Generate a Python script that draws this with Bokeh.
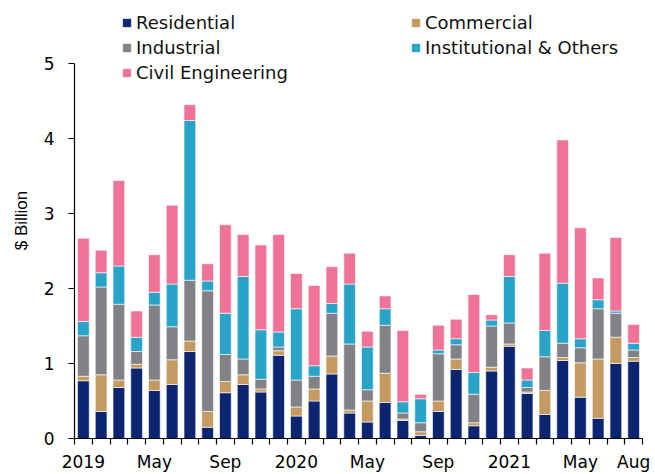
from bokeh.plotting import figure
from bokeh.models import ColumnDataSource, FixedTicker, Legend, LegendItem, Range1d
from bokeh.embed import file_html
from bokeh.resources import INLINE

months = ["Jan 2019", "Feb 2019", "Mar 2019", "Apr 2019", "May 2019", "Jun 2019", "Jul 2019", "Aug 2019",
          "Sep 2019", "Oct 2019", "Nov 2019", "Dec 2019", "Jan 2020", "Feb 2020", "Mar 2020", "Apr 2020",
          "May 2020", "Jun 2020", "Jul 2020", "Aug 2020", "Sep 2020", "Oct 2020", "Nov 2020", "Dec 2020",
          "Jan 2021", "Feb 2021", "Mar 2021", "Apr 2021", "May 2021", "Jun 2021", "Jul 2021", "Aug 2021"]

residential = [0.77, 0.36, 0.68, 0.94, 0.64, 0.72, 1.16, 0.15, 0.61, 0.72, 0.62, 1.11, 0.30, 0.50, 0.86, 0.34,
               0.22, 0.48, 0.24, 0.04, 0.36, 0.92, 0.17, 0.90, 1.23, 0.60, 0.32, 1.04, 0.55, 0.27, 1.00, 1.03]
commercial = [0.06, 0.49, 0.10, 0.05, 0.14, 0.33, 0.14, 0.21, 0.15, 0.13, 0.04, 0.06, 0.12, 0.16, 0.24, 0.04,
              0.28, 0.39, 0.02, 0.05, 0.14, 0.14, 0.04, 0.05, 0.03, 0.02, 0.32, 0.04, 0.46, 0.79, 0.35, 0.05]
industrial = [0.54, 1.17, 1.01, 0.17, 1.00, 0.44, 0.81, 1.61, 0.36, 0.21, 0.13, 0.05, 0.36, 0.17, 0.57, 0.88,
              0.15, 0.64, 0.08, 0.12, 0.63, 0.19, 0.38, 0.55, 0.28, 0.06, 0.45, 0.19, 0.20, 0.67, 0.32, 0.10]
institutional = [0.19, 0.19, 0.51, 0.19, 0.17, 0.57, 2.13, 0.13, 0.55, 1.10, 0.66, 0.20, 0.95, 0.14, 0.13, 0.80,
                 0.57, 0.22, 0.15, 0.32, 0.05, 0.08, 0.29, 0.08, 0.62, 0.10, 0.35, 0.80, 0.12, 0.12, 0.03, 0.09]
civil = [1.11, 0.30, 1.14, 0.35, 0.50, 1.05, 0.21, 0.23, 1.18, 0.56, 1.13, 1.30, 0.47, 1.07, 0.49, 0.41,
         0.21, 0.17, 0.95, 0.06, 0.33, 0.26, 1.04, 0.07, 0.29, 0.16, 1.03, 1.91, 1.48, 0.29, 0.98, 0.25]

series_names = ["Residential", "Commercial", "Industrial", "Institutional & Others", "Civil Engineering"]
series_keys = ["residential", "commercial", "industrial", "institutional", "civil"]
colors = ["#0c2570", "#c49a62", "#808285", "#29a3c8", "#ee7396"]

tick_index = [0, 4, 8, 12, 16, 20, 24, 28, 31]
tick_labels = ["2019", "May", "Sep", "2020", "May", "Sep", "2021", "May", "Aug"]
y_ticks = [0, 1, 2, 3, 4, 5]

x = list(range(len(months)))
src = ColumnDataSource(dict(x=x, month=months, residential=residential, commercial=commercial,
                            industrial=industrial, institutional=institutional, civil=civil))

p = figure(width=655, height=474, output_backend="svg", toolbar_location=None,
           x_range=Range1d(-0.5, len(months) - 0.5), y_range=Range1d(0, 5.813),
           min_border_left=74, min_border_right=13, min_border_top=2, min_border_bottom=36)
p.outline_line_color = None
p.xgrid.visible = False
p.ygrid.visible = False

renderers = p.vbar_stack(series_keys, x="x", width=0.66, source=src, color=colors,
                         line_color="white", line_width=0.6)

FONT = "DejaVu Sans"

# y axis
ya = p.yaxis[0]
ya.ticker = FixedTicker(ticks=y_ticks)
ya.bounds = (0, 5)
ya.axis_line_color = "black"
ya.axis_line_width = 1.2
ya.major_tick_out = 6
ya.major_tick_in = 0
ya.minor_tick_out = 0
ya.minor_tick_in = 0
ya.major_tick_line_color = "black"
ya.major_label_text_font = FONT
ya.major_label_text_font_size = "17px"
ya.major_label_text_color = "black"
ya.major_label_standoff = 14
ya.axis_label = "$ Billion"
ya.axis_label_text_font = "Liberation Sans"
ya.axis_label_text_font_size = "17px"
ya.axis_label_text_font_style = "normal"
ya.axis_label_text_color = "black"
ya.axis_label_standoff = 10

# x axis: boundaries as minor ticks, labels at selected months
xa = p.xaxis[0]
minor = [i - 0.5 for i in range(len(months) + 1)]
xa.ticker = FixedTicker(ticks=tick_index, minor_ticks=minor)
xa.major_label_overrides = {i: lab for i, lab in zip(tick_index, tick_labels)}
xa.axis_line_color = "black"
xa.axis_line_width = 1.2
xa.major_tick_out = 0
xa.major_tick_in = 0
xa.minor_tick_out = 6
xa.minor_tick_in = 0
xa.minor_tick_line_color = "black"
xa.minor_tick_line_width = 1.2
xa.major_label_text_font = FONT
xa.major_label_text_font_size = "17px"
xa.major_label_text_color = "black"
xa.major_label_standoff = 7

def make_legend(idx, loc):
    items = [LegendItem(label=series_names[i], renderers=[renderers[i]]) for i in idx]
    lg = Legend(items=items, location=loc, padding=0, margin=0, spacing=4,
                glyph_width=11, glyph_height=11, label_standoff=4, label_height=20,
                label_text_font=FONT, label_text_font_size="18px", label_text_color="#111111",
                border_line_color=None, background_fill_alpha=0)
    return lg

p.add_layout(make_legend([0, 2, 4], (47, 355)), "center")
p.add_layout(make_legend([1, 3], (336, 380)), "center")

open("out.html", "w").write(file_html(p, INLINE))
